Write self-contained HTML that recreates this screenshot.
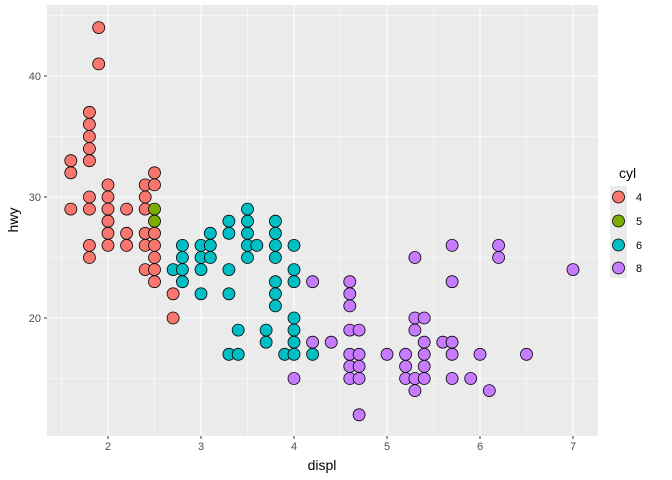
<!DOCTYPE html>
<html><head><meta charset="utf-8"><style>
body{margin:0;background:#fff;}
svg{display:block;font-family:"Liberation Sans",sans-serif;}
</style></head><body>
<svg id="s" width="672" height="480" xmlns="http://www.w3.org/2000/svg">
<rect x="47" y="5" width="551" height="431" fill="#ebebeb"/>
<g id="grid"></g>
<g id="pts"></g>
<g font-size="11" fill="#4d4d4d" text-anchor="middle">
<text x="108" y="450">2</text><text x="201" y="450">3</text><text x="294" y="450">4</text>
<text x="387" y="450">5</text><text x="480" y="450">6</text><text x="573" y="450">7</text>
</g>
<g font-size="11" fill="#4d4d4d" text-anchor="end">
<text x="41" y="80">40</text><text x="41" y="201">30</text><text x="41" y="322">20</text>
</g>
<g stroke="#333" stroke-width="1">
<line x1="108" y1="436" x2="108" y2="439"/><line x1="201" y1="436" x2="201" y2="439"/><line x1="294" y1="436" x2="294" y2="439"/>
<line x1="387" y1="436" x2="387" y2="439"/><line x1="480" y1="436" x2="480" y2="439"/><line x1="573" y1="436" x2="573" y2="439"/>
<line x1="44" y1="76" x2="47" y2="76"/><line x1="44" y1="197" x2="47" y2="197"/><line x1="44" y1="318" x2="47" y2="318"/>
</g>
<text x="322" y="470" font-size="14" text-anchor="middle" fill="#000">displ</text>
<text x="0" y="0" font-size="14" text-anchor="middle" fill="#000" transform="translate(18,220) rotate(-90)">hwy</text>
<text x="619" y="178" font-size="14" fill="#000">cyl</text>
<g>
<rect x="610" y="186" width="17" height="92" fill="#ebebeb"/>
<circle cx="618.5" cy="197" r="6" fill="#F8766D" stroke="#000" stroke-width="0.8"/>
<circle cx="618.5" cy="221" r="6" fill="#7CAE00" stroke="#000" stroke-width="0.8"/>
<circle cx="618.5" cy="245" r="6" fill="#00BFC4" stroke="#000" stroke-width="0.8"/>
<circle cx="618.5" cy="268" r="6" fill="#C77CFF" stroke="#000" stroke-width="0.8"/>
</g>
<g font-size="11" fill="#000">
<text x="636" y="201">4</text><text x="636" y="225">5</text><text x="636" y="249">6</text><text x="636" y="272">8</text>
</g>
</svg>
<script>
var NS="http://www.w3.org/2000/svg";
function X(d){return 108+(d-2)*93;}
function Y(h){return 318-(h-20)*12.1;}
var g=document.getElementById('grid');
function ln(x1,y1,x2,y2,w){var l=document.createElementNS(NS,'line');l.setAttribute('x1',x1);l.setAttribute('y1',y1);l.setAttribute('x2',x2);l.setAttribute('y2',y2);l.setAttribute('stroke','#fff');l.setAttribute('stroke-width',w);g.appendChild(l);}
[1.5,2.5,3.5,4.5,5.5,6.5].forEach(function(d){ln(X(d),5,X(d),436,0.5);});
[15,25,35,45].forEach(function(h){if(Y(h)>5)ln(47,Y(h),598,Y(h),0.5);});
[2,3,4,5,6,7].forEach(function(d){ln(X(d),5,X(d),436,1.1);});
[20,30,40].forEach(function(h){ln(47,Y(h),598,Y(h),1.1);});
var data={
"#F8766D":[[1.6,[33,32,29]],[1.8,[37,36,35,34,33,30,29,26,25]],[1.9,[44,41]],[2.0,[31,30,29,28,27,26]],[2.2,[29,27,26]],[2.4,[31,30,29,27,26,24]],[2.5,[32,31,27,26,25,24,23]],[2.7,[22,20]]],
"#7CAE00":[[2.5,[29,28]]],
"#00BFC4":[[2.7,[24]],[2.8,[26,25,24,23]],[3.0,[26,25,24,22]],[3.1,[27,26,25]],[3.3,[28,27,24,22,17]],[3.4,[19,17]],[3.5,[29,28,27,26,25]],[3.6,[26]],[3.7,[19,18]],[3.8,[28,27,26,25,23,22,21]],[3.9,[17]],[4.0,[26,24,23,20,19,18,17]],[4.2,[17]]],
"#C77CFF":[[4.0,[15]],[4.2,[23,18]],[4.4,[18]],[4.6,[23,22,21,19,17,16,15]],[4.7,[19,17,16,15,12]],[5.0,[17]],[5.2,[17,16,15]],[5.3,[25,20,19,15,14]],[5.4,[20,18,17,16,15]],[5.6,[18]],[5.7,[26,23,18,17,15]],[5.9,[15]],[6.0,[17]],[6.1,[14]],[6.2,[26,25]],[6.5,[17]],[7.0,[24]]]
};
var p=document.getElementById('pts');
for(var c in data){data[c].forEach(function(r){r[1].forEach(function(h){var e=document.createElementNS(NS,'circle');e.setAttribute('cx',X(r[0]));e.setAttribute('cy',Y(h));e.setAttribute('r',6);e.setAttribute('fill',c);e.setAttribute('stroke','#000');e.setAttribute('stroke-width',0.8);p.appendChild(e);});});}
</script>
</body></html>
